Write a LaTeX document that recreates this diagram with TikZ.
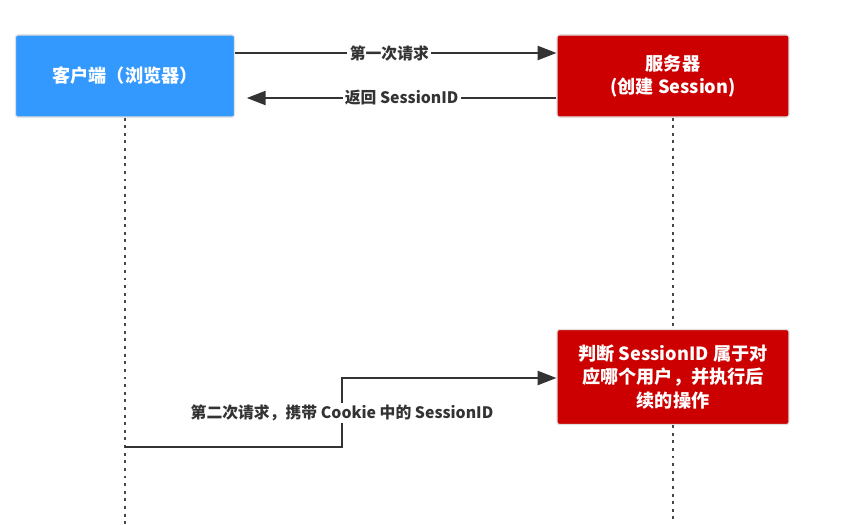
\documentclass[tikz,border=0pt]{standalone}
\usepackage{fontspec}
\setmainfont{Noto Sans CJK SC}
\usetikzlibrary{arrows.meta}
\definecolor{clientblue}{HTML}{3399FF}
\definecolor{serverred}{HTML}{CC0000}
\definecolor{linegray}{HTML}{333333}
\tikzstyle{msg}=[-{Triangle[length=16pt,width=12pt]},draw=linegray,line width=1.7pt]
\tikzstyle{client}=[rectangle,rounded corners=2pt,draw=black!12,line width=1pt,fill=clientblue,text=white,font=\bfseries\fontsize{15.5}{20}\selectfont,minimum width=187pt,minimum height=70pt]
\tikzstyle{server}=[rectangle,rounded corners=2pt,draw=black!12,line width=1pt,fill=serverred,text=white,font=\bfseries\fontsize{15.5}{20}\selectfont,minimum width=198pt,align=center]
\tikzstyle{lbl}=[inner sep=2pt,fill=white,text=linegray,font=\bfseries\fontsize{13.5}{16}\selectfont]
\tikzstyle{life}=[draw=linegray!90,line width=1.6pt,dash pattern=on 2.5pt off 4pt]

\begin{document}
\begin{tikzpicture}[x=0.03cm,y=-0.03cm]
				\useasboundingbox (0,0) rectangle (847,524);
				
				%The boxes
				\draw (125,76) node[client] (cli) {客户端（浏览器）};
				\draw (673,76) node[server,minimum height=70pt] (srv) {服务器\\(创建 Session)};
				\draw (673,377) node[server,minimum height=81pt] (chk) {判断 SessionID 属于对\\应哪个用户，并执行后\\续的操作};
				
				%The lifelines
				\coordinate (cend) at (125,524);
				\coordinate (send) at (673,524);
				\draw[life] (cli.south) -- (cend);
				\draw[life] (srv.south) -- (chk.north);
				\draw[life] (chk.south) -- (send);
				
				%The first request and its answer
				\draw[msg] (cli.east |- 0,53) -- node[lbl,pos=0.48] {第一次请求} (srv.west |- 0,53);
				\draw[msg] (srv.west |- 0,98) -- node[lbl] {返回 SessionID} ([xshift=10]cli.east |- 0,98);
				
				%The second request
				\coordinate (c2) at (125,447);
				\draw[msg] (c2) -| (342,413) node[lbl] {第二次请求，携带 Cookie 中的 SessionID} |- (chk.west |- 0,378);
\end{tikzpicture}
\end{document}
